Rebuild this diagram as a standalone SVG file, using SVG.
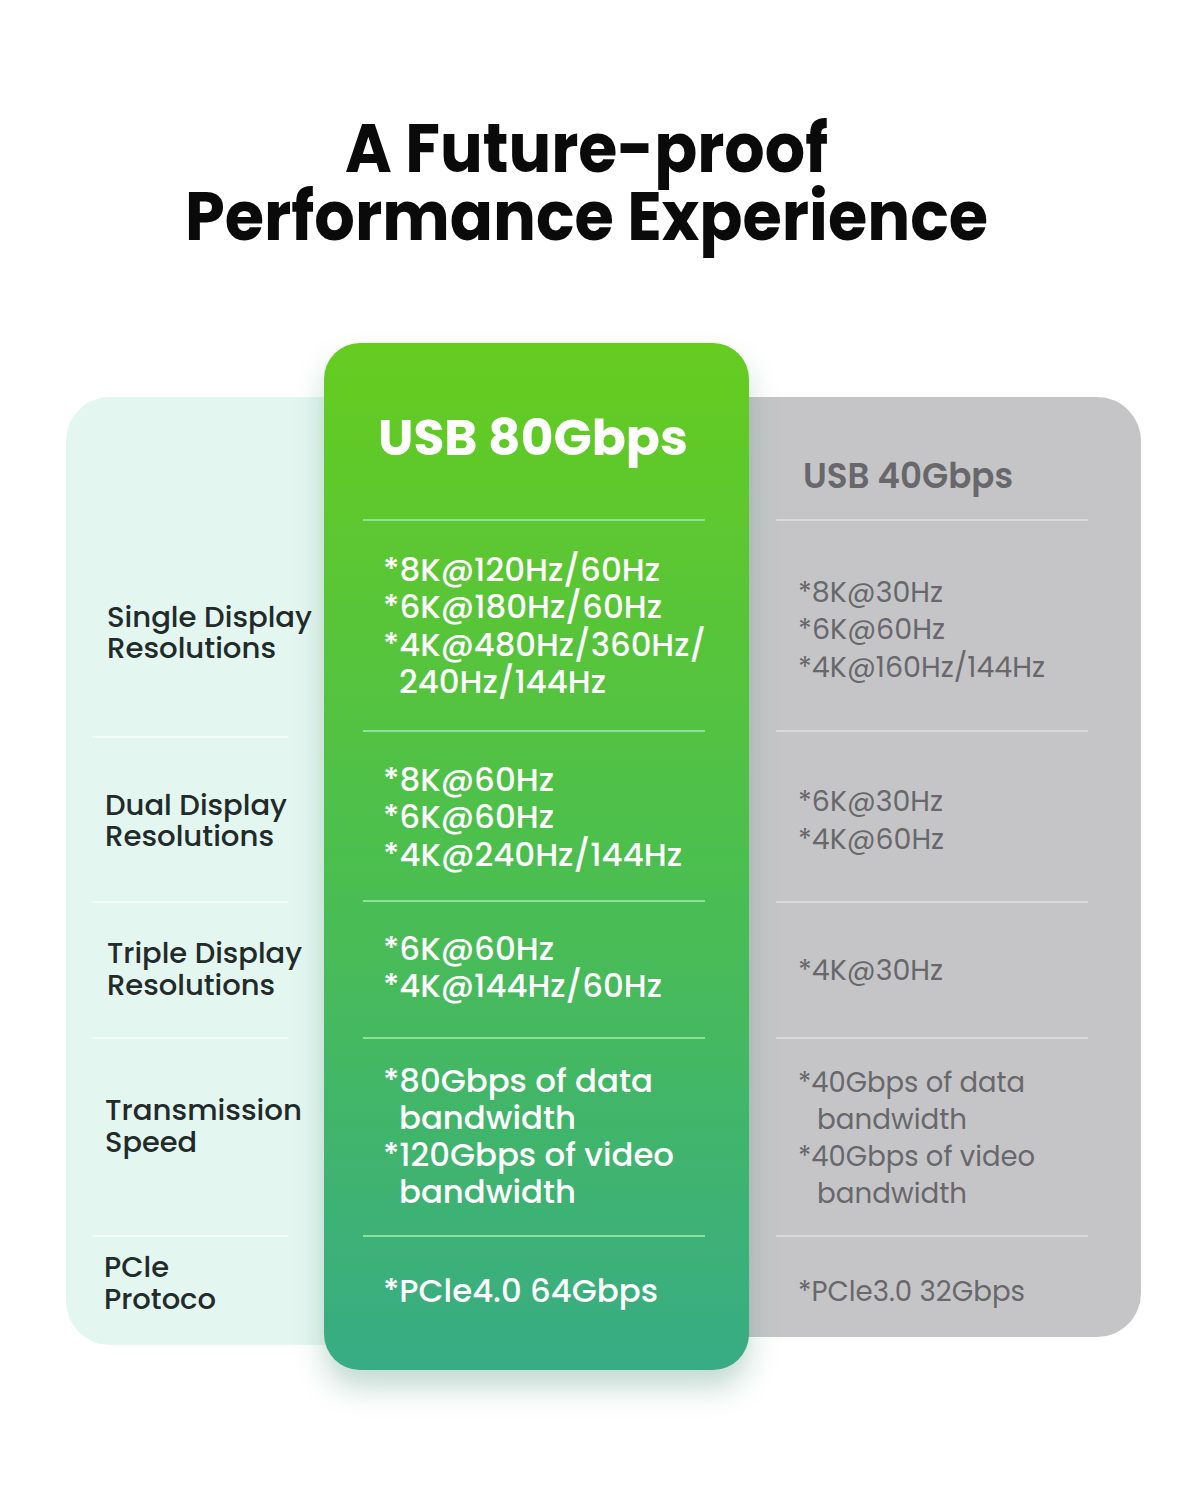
<svg xmlns="http://www.w3.org/2000/svg" width="1200" height="1500" viewBox="0 0 1200 1500">
<defs>
<linearGradient id="gGreen" x1="0" y1="0" x2="0" y2="1">
<stop offset="0" stop-color="#66CC1F"/>
<stop offset="0.5" stop-color="#4CBF4E"/>
<stop offset="1" stop-color="#37AC85"/>
</linearGradient>
<filter id="shadow" x="-20%" y="-10%" width="140%" height="125%">
<feGaussianBlur in="SourceAlpha" stdDeviation="14"/>
<feOffset dx="0" dy="18" result="b"/>
<feFlood flood-color="#2E7D5E" flood-opacity="0.28"/>
<feComposite in2="b" operator="in"/>
<feMerge><feMergeNode/><feMergeNode in="SourceGraphic"/></feMerge>
</filter>
<style>
.title{font-family:"Poppins","Lato","Open Sans",sans-serif;font-weight:700;font-size:68px;fill:#0a0a0a}
.lbl{font-family:"Poppins","Lato","Open Sans",sans-serif;font-weight:500;font-size:28px;fill:#222A2A}
.gh{font-family:"Poppins","Lato","Open Sans",sans-serif;font-weight:700;font-size:50px;fill:#ffffff}
.gt{font-family:"Poppins","Lato","Open Sans",sans-serif;font-weight:500;font-size:32px;fill:#ffffff}
.ah{font-family:"Poppins","Lato","Open Sans",sans-serif;font-weight:600;font-size:36px;fill:#68686C}
.at{font-family:"Poppins","Lato","Open Sans",sans-serif;font-weight:400;font-size:28px;fill:#68686C}
.sepL{stroke:#F4FBF9;stroke-width:2}
.sepG{stroke:#8BE39A;stroke-width:2}
.sepA{stroke:#D9D9DB;stroke-width:2}
</style>
</defs>
<rect width="1200" height="1500" fill="#ffffff"/>

<g id="title">
<text class="title" x="345" y="172" textLength="483" lengthAdjust="spacingAndGlyphs">A Future-proof</text>
<text class="title" x="185" y="240" textLength="803" lengthAdjust="spacingAndGlyphs">Performance Experience</text>
</g>

<g id="panel-labels">
<rect x="66" y="397" width="320" height="948" rx="44" fill="#E3F6F0"/>
</g>
<g id="panel-40">
<rect x="700" y="397" width="441" height="940" rx="44" fill="#C5C5C7"/>
</g>
<g id="panel-80">
<rect x="324" y="343" width="425" height="1027" rx="36" fill="url(#gGreen)" filter="url(#shadow)"/>
</g>

<g id="connectors">
<line class="sepL" x1="92" y1="737" x2="288" y2="737"/>
<line class="sepL" x1="92" y1="902" x2="288" y2="902"/>
<line class="sepL" x1="92" y1="1038" x2="288" y2="1038"/>
<line class="sepL" x1="92" y1="1236" x2="288" y2="1236"/>
<line class="sepG" x1="363" y1="520" x2="705" y2="520"/>
<line class="sepG" x1="363" y1="731" x2="705" y2="731"/>
<line class="sepG" x1="363" y1="901" x2="705" y2="901"/>
<line class="sepG" x1="363" y1="1038" x2="705" y2="1038"/>
<line class="sepG" x1="363" y1="1236" x2="705" y2="1236"/>
<line class="sepA" x1="776" y1="520" x2="1088" y2="520"/>
<line class="sepA" x1="776" y1="731" x2="1088" y2="731"/>
<line class="sepA" x1="776" y1="902" x2="1088" y2="902"/>
<line class="sepA" x1="776" y1="1038" x2="1088" y2="1038"/>
<line class="sepA" x1="776" y1="1236" x2="1088" y2="1236"/>
</g>

<g id="row-labels">
<text class="lbl" x="107" y="627" textLength="205" lengthAdjust="spacingAndGlyphs">Single Display</text>
<text class="lbl" x="107" y="658" textLength="169" lengthAdjust="spacingAndGlyphs">Resolutions</text>
<text class="lbl" x="105" y="815" textLength="182" lengthAdjust="spacingAndGlyphs">Dual Display</text>
<text class="lbl" x="105" y="846" textLength="169" lengthAdjust="spacingAndGlyphs">Resolutions</text>
<text class="lbl" x="107" y="963" textLength="195" lengthAdjust="spacingAndGlyphs">Triple Display</text>
<text class="lbl" x="107" y="995" textLength="168" lengthAdjust="spacingAndGlyphs">Resolutions</text>
<text class="lbl" x="105" y="1120" textLength="197" lengthAdjust="spacingAndGlyphs">Transmission</text>
<text class="lbl" x="105" y="1152" textLength="92" lengthAdjust="spacingAndGlyphs">Speed</text>
<text class="lbl" x="104" y="1277" textLength="65" lengthAdjust="spacingAndGlyphs">PCle</text>
<text class="lbl" x="104" y="1309" textLength="112" lengthAdjust="spacingAndGlyphs">Protoco</text>
</g>

<g id="col-80">
<text class="gh" x="378" y="455" textLength="310" lengthAdjust="spacingAndGlyphs">USB 80Gbps</text>
<text class="gt" x="383" y="581" textLength="277" lengthAdjust="spacingAndGlyphs">*8K@120Hz/60Hz</text>
<text class="gt" x="383" y="618" textLength="279" lengthAdjust="spacingAndGlyphs">*6K@180Hz/60Hz</text>
<text class="gt" x="383" y="656" textLength="323" lengthAdjust="spacingAndGlyphs">*4K@480Hz/360Hz/</text>
<text class="gt" x="399" y="693" textLength="207" lengthAdjust="spacingAndGlyphs">240Hz/144Hz</text>
<text class="gt" x="383" y="791" textLength="171" lengthAdjust="spacingAndGlyphs">*8K@60Hz</text>
<text class="gt" x="383" y="828" textLength="171" lengthAdjust="spacingAndGlyphs">*6K@60Hz</text>
<text class="gt" x="383" y="866" textLength="299" lengthAdjust="spacingAndGlyphs">*4K@240Hz/144Hz</text>
<text class="gt" x="383" y="960" textLength="171" lengthAdjust="spacingAndGlyphs">*6K@60Hz</text>
<text class="gt" x="383" y="997" textLength="279" lengthAdjust="spacingAndGlyphs">*4K@144Hz/60Hz</text>
<text class="gt" x="383" y="1092" textLength="270" lengthAdjust="spacingAndGlyphs">*80Gbps of data</text>
<text class="gt" x="399" y="1129" textLength="177" lengthAdjust="spacingAndGlyphs">bandwidth</text>
<text class="gt" x="383" y="1166" textLength="291" lengthAdjust="spacingAndGlyphs">*120Gbps of video</text>
<text class="gt" x="399" y="1203" textLength="177" lengthAdjust="spacingAndGlyphs">bandwidth</text>
<text class="gt" x="383" y="1302" textLength="275" lengthAdjust="spacingAndGlyphs">*PCle4.0 64Gbps</text>
</g>

<g id="col-40">
<text class="ah" x="803" y="488" textLength="210" lengthAdjust="spacingAndGlyphs">USB 40Gbps</text>
<text class="at" x="798" y="602" textLength="145" lengthAdjust="spacingAndGlyphs">*8K@30Hz</text>
<text class="at" x="798" y="639" textLength="147" lengthAdjust="spacingAndGlyphs">*6K@60Hz</text>
<text class="at" x="798" y="677" textLength="247" lengthAdjust="spacingAndGlyphs">*4K@160Hz/144Hz</text>
<text class="at" x="798" y="811" textLength="145" lengthAdjust="spacingAndGlyphs">*6K@30Hz</text>
<text class="at" x="798" y="849" textLength="146" lengthAdjust="spacingAndGlyphs">*4K@60Hz</text>
<text class="at" x="798" y="980" textLength="145" lengthAdjust="spacingAndGlyphs">*4K@30Hz</text>
<text class="at" x="798" y="1092" textLength="227" lengthAdjust="spacingAndGlyphs">*40Gbps of data</text>
<text class="at" x="817" y="1129" textLength="150" lengthAdjust="spacingAndGlyphs">bandwidth</text>
<text class="at" x="798" y="1166" textLength="237" lengthAdjust="spacingAndGlyphs">*40Gbps of video</text>
<text class="at" x="817" y="1203" textLength="150" lengthAdjust="spacingAndGlyphs">bandwidth</text>
<text class="at" x="798" y="1301" textLength="227" lengthAdjust="spacingAndGlyphs">*PCle3.0 32Gbps</text>
</g>
</svg>
